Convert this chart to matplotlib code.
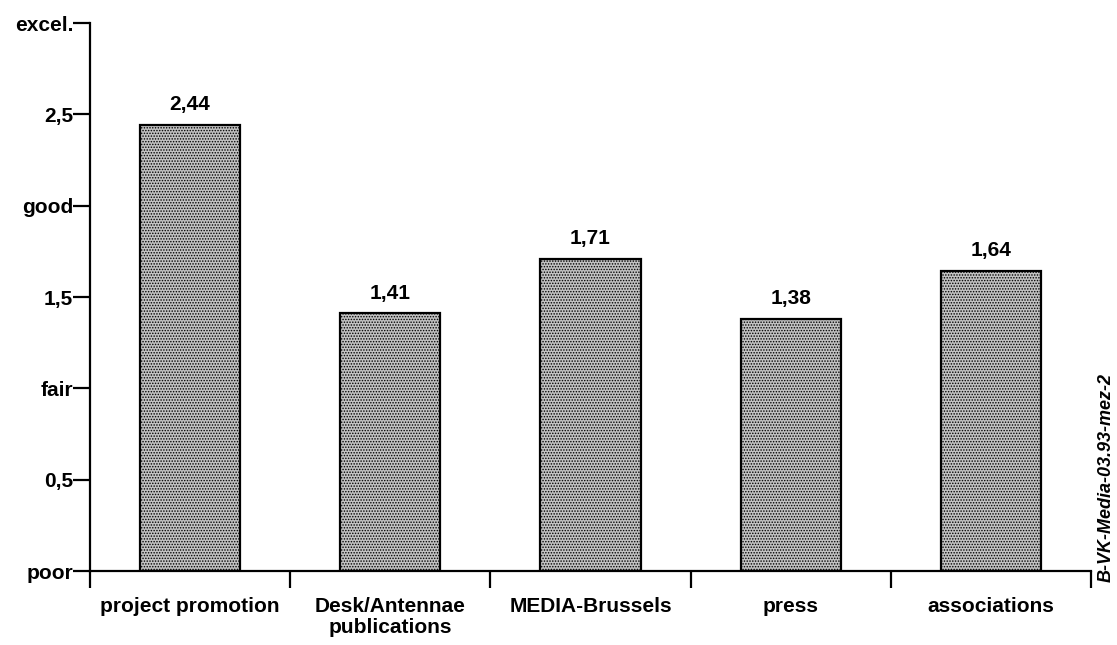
import matplotlib.pyplot as plt
import numpy as np

categories = ['project promotion', 'Desk/Antennae\npublications', 'MEDIA-Brussels', 'press', 'associations']
scores = [2.44, 1.41, 1.71, 1.38, 1.64]
ytick_vals = [0, 0.5, 1, 1.5, 2, 2.5, 3]
ytick_labels = ['poor', '0,5', 'fair', '1,5', 'good', '2,5', 'excel.']
side_note = 'B-VK-Media-03.93-mez-2'

plt.rcParams['font.family'] = ['Liberation Sans', 'DejaVu Sans']
plt.rcParams['hatch.color'] = '#1a1a1a'
plt.rcParams['hatch.linewidth'] = 0.7

fig = plt.figure(figsize=(11.17, 6.45), dpi=100)
ax = fig.add_axes([0.0806, 0.1147, 0.9767 - 0.0806, 0.9643 - 0.1147])

x = np.arange(len(categories))
bars = ax.bar(x, scores, width=0.5, facecolor='#c2c2c2', edgecolor='black',
              linewidth=1.6, hatch='......')

# value labels above bars
for xi, v in zip(x, scores):
    ax.text(xi, v + 0.06, f'{v:.2f}'.replace('.', ','), ha='center', va='bottom',
            fontsize=15, fontweight='bold')

ax.set_xlim(-0.5, len(categories) - 0.5)
ax.set_ylim(0, 3)

ax.spines['top'].set_visible(False)
ax.spines['right'].set_visible(False)
ax.spines['left'].set_linewidth(1.6)
ax.spines['bottom'].set_linewidth(1.6)

ax.set_yticks(ytick_vals)
ax.set_yticklabels(ytick_labels, fontsize=15, fontweight='bold')
ax.tick_params(axis='y', direction='out', length=12, width=1.6, pad=0)

ax.set_xticks(x)
ax.set_xticklabels(categories, fontsize=15, fontweight='bold', linespacing=1.1)
ax.tick_params(axis='x', which='major', length=0, pad=19)
ax.set_xticks(np.arange(-0.5, len(categories)), minor=True)
ax.tick_params(axis='x', which='minor', direction='out', length=12, width=1.6)

fig.text(0.990, 0.098, side_note, rotation=90, ha='center', va='bottom',
         fontsize=13, fontweight='bold', fontstyle='italic')

fig.savefig('out.png', dpi=100)
